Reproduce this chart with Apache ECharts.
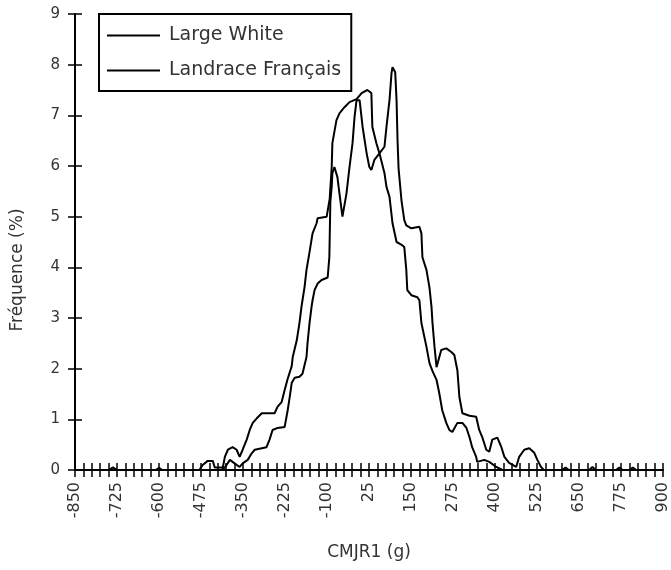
<!DOCTYPE html>
<html>
<head>
<meta charset="utf-8">
<script src="https://cdn.jsdelivr.net/npm/echarts@6/dist/echarts.min.js"></script>
<style>
html,body{margin:0;padding:0;background:#fff;}
#chart{width:671px;height:570px;}
</style>
</head>
<body>
<div id="chart"></div>
<script>
// Series names
var seriesNames = ['Large White', 'Landrace Français'];

// Large White (x in g, frequency in %)
var lwX = [-850,-750,-737,-725,-480,-470,-455,-440,-434,-410,-404,-395,-381,-369,-360,-351,-339,-330,-321,-309,-294,-256,-247,-235,-226,-217,-205,-202,-190,-182,-176,-173,-167,-161,-152,-143,-131,-128,-101,-92,-86,-84,-72,-63,-48,-33,-12,3,20,32,35,47,56,71,77,86,95,107,121,130,136,139,151,169,175,181,190,196,205,214,226,234,243,255,264,273,288,303,315,324,332,344,347,368,383,404,422,680,690,700,760,770,780,900];
var lwY = [0,0,0.05,0,0,0.1,0.18,0.18,0.05,0.05,0.26,0.4,0.45,0.4,0.26,0.4,0.6,0.79,0.93,1.02,1.12,1.12,1.25,1.34,1.58,1.8,2.05,2.23,2.56,2.9,3.22,3.35,3.6,3.95,4.3,4.67,4.87,4.97,5.0,5.35,5.98,6.45,6.9,7.04,7.16,7.26,7.32,7.44,7.5,7.44,6.77,6.45,6.25,5.86,5.59,5.39,4.87,4.5,4.45,4.4,3.95,3.55,3.45,3.41,3.35,2.9,2.62,2.43,2.11,1.95,1.78,1.52,1.18,0.93,0.79,0.75,0.93,0.93,0.83,0.65,0.45,0.26,0.16,0.2,0.16,0.06,0,0,0.06,0,0,0.05,0,0];

// Landrace Français
var lfX = [-850,-610,-600,-590,-415,-404,-389,-375,-360,-351,-336,-324,-315,-294,-280,-271,-262,-247,-226,-217,-211,-205,-196,-182,-173,-161,-158,-152,-146,-143,-137,-128,-116,-98,-93,-90,-86,-84,-78,-69,-63,-54,-42,-33,-24,-18,-12,-3,6,18,26,32,41,56,71,77,86,92,95,103,107,110,113,122,130,136,151,175,181,184,196,205,211,214,220,226,240,255,270,279,288,294,303,324,344,353,362,374,383,392,407,419,428,442,463,472,487,502,517,526,537,545,600,610,620,800,810,820,900];
var lfY = [0,0,0.04,0,0,0.05,0.2,0.13,0.06,0.13,0.2,0.33,0.4,0.43,0.45,0.6,0.79,0.83,0.85,1.18,1.44,1.72,1.82,1.84,1.9,2.23,2.5,2.9,3.22,3.35,3.55,3.68,3.75,3.8,4.2,5.3,5.59,5.86,5.98,5.78,5.46,5.0,5.46,5.98,6.45,6.97,7.3,7.3,6.77,6.25,5.98,5.92,6.12,6.25,6.38,6.77,7.3,7.83,7.95,7.85,7.3,6.5,5.95,5.3,4.93,4.83,4.77,4.8,4.67,4.2,3.95,3.6,3.22,2.9,2.43,2.03,2.37,2.4,2.33,2.27,1.97,1.44,1.12,1.07,1.05,0.79,0.65,0.4,0.36,0.6,0.64,0.45,0.26,0.14,0.06,0.26,0.4,0.43,0.34,0.2,0.06,0,0,0.05,0,0,0.05,0,0];

// Axis settings
var xMin = -850, xMax = 900, xLabelStep = 125, xTickStep = 25;
var yMin = 0, yMax = 9, yStep = 1;

function pairs(xs, ys) {
  var out = [];
  for (var i = 0; i < xs.length; i++) out.push([xs[i], ys[i]]);
  return out;
}

var FONT = 'DejaVu Sans';
var TXT = '#333';

var chart = echarts.init(document.getElementById('chart'), null, {renderer: 'canvas'});
var option = {
  animation: false,
  backgroundColor: '#fff',
  grid: {left: 75, right: 7, top: 14, bottom: 100, containLabel: false},
  legend: {
    left: 99, top: 14,
    orient: 'vertical',
    data: seriesNames,
    icon: 'rect',
    itemWidth: 53, itemHeight: 2, itemGap: 14,
    padding: [11, 10, 10, 8],
    borderColor: '#000', borderWidth: 2, borderRadius: 0,
    itemStyle: {color: '#000'},
    textStyle: {fontFamily: FONT, fontSize: 19, lineHeight: 21, color: TXT, padding: [0, 0, 0, 4]}
  },
  xAxis: [{
    type: 'value', min: xMin, max: xMax, interval: xTickStep,
    position: 'bottom',
    name: 'CMJR1 (g)', nameLocation: 'middle', nameGap: 74,
    nameTextStyle: {fontFamily: FONT, fontSize: 17, color: TXT},
    axisLine: {show: true, onZero: false, lineStyle: {color: '#000', width: 2}},
    axisTick: {show: true, inside: false, length: 7, lineStyle: {color: '#000', width: 1.5}},
    axisLabel: {
      rotate: 90, margin: 12, fontFamily: FONT, fontSize: 16, color: TXT,
      formatter: function (v) { return ((v - xMin) % xLabelStep === 0) ? String(v) : ''; }
    },
    splitLine: {show: false}
  }, {
    type: 'value', min: xMin, max: xMax, interval: xTickStep,
    position: 'bottom', offset: 0,
    axisLine: {show: false, onZero: false},
    axisTick: {show: true, inside: true, length: 7, lineStyle: {color: '#000', width: 1.5}},
    axisLabel: {show: false},
    splitLine: {show: false}
  }],
  yAxis: [{
    type: 'value', min: yMin, max: yMax, interval: yStep,
    position: 'left',
    name: 'Fréquence (%)', nameLocation: 'middle', nameGap: 49,
    nameTextStyle: {fontFamily: FONT, fontSize: 17, color: TXT, padding: [0, 56, 0, 0]},
    axisLine: {show: true, onZero: false, lineStyle: {color: '#000', width: 2}},
    axisTick: {show: true, inside: false, length: 7, lineStyle: {color: '#000', width: 1.5}},
    axisLabel: {margin: 15, fontFamily: FONT, fontSize: 15, color: TXT},
    splitLine: {show: false}
  }, {
    type: 'value', min: yMin, max: yMax, interval: yStep,
    position: 'left', offset: 0,
    axisLine: {show: false, onZero: false},
    axisTick: {show: true, inside: true, length: 7, lineStyle: {color: '#000', width: 1.5}},
    axisLabel: {show: false},
    splitLine: {show: false}
  }],
  series: [{
    name: seriesNames[0], type: 'line', xAxisIndex: 0, yAxisIndex: 0,
    data: pairs(lwX, lwY), symbol: 'none', smooth: false,
    lineStyle: {color: '#000', width: 2}, itemStyle: {color: '#000'}, z: 3
  }, {
    name: seriesNames[1], type: 'line', xAxisIndex: 0, yAxisIndex: 0,
    data: pairs(lfX, lfY), symbol: 'none', smooth: false,
    lineStyle: {color: '#000', width: 2}, itemStyle: {color: '#000'}, z: 3
  }]
};
chart.setOption(option);
</script>
</body>
</html>
